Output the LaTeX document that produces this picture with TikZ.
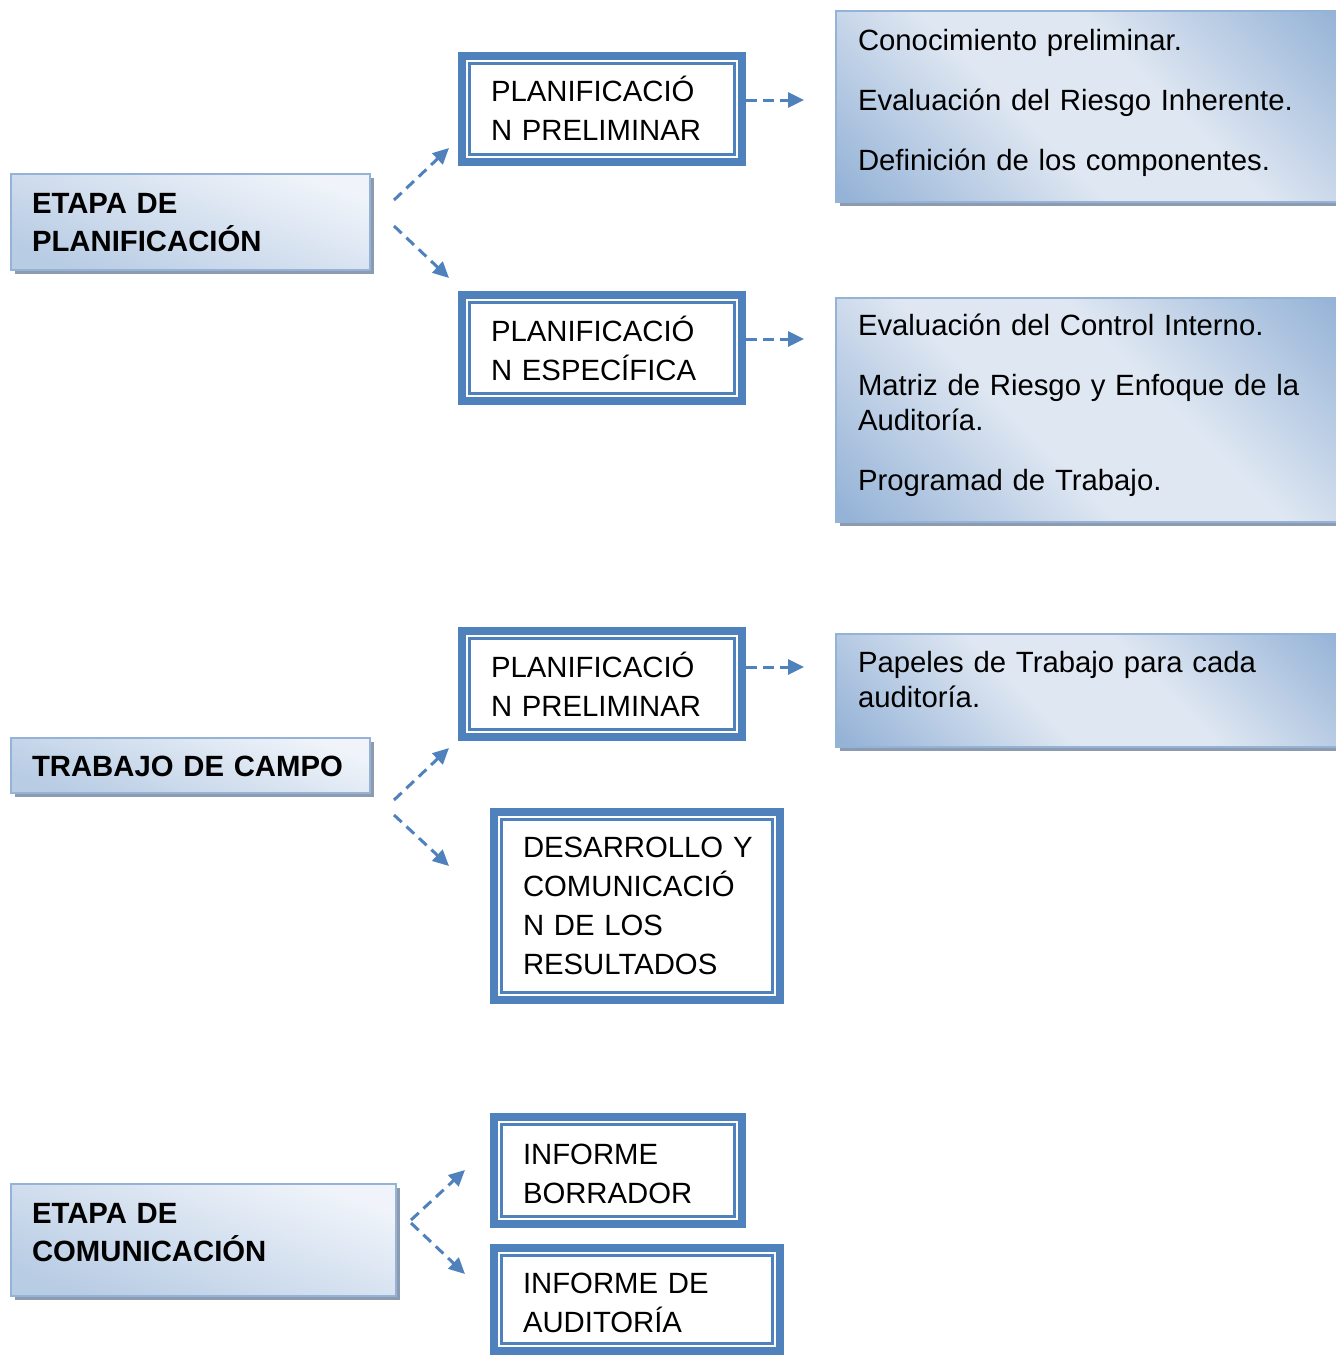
\documentclass[tikz,border=0pt]{standalone}
\usepackage{fontspec}
\setmainfont{Liberation Sans}
\usetikzlibrary{arrows.meta,shadows}

\definecolor{frameblue}{HTML}{4F81BD}
\definecolor{paleedge}{HTML}{95B3D7}
\definecolor{stagetop}{HTML}{F0F4FA}
\definecolor{stagebot}{HTML}{B8CCE4}
\definecolor{noteblue}{HTML}{95B3D7}
\definecolor{notelight}{HTML}{DFE7F2}
\definecolor{shadowgray}{HTML}{8C9BB0}

% diagonal fill of the detail boxes: blue corners, pale band through the middle
\pgfdeclarehorizontalshading{notefill}{100bp}{%
  color(0bp)=(noteblue); color(16bp)=(noteblue); color(42bp)=(notelight);
  color(58bp)=(notelight); color(84bp)=(noteblue); color(100bp)=(noteblue)}

\tikzset{
  every node/.style={inner sep=0pt, outer sep=0pt},
  boxshadow/.style={general shadow={fill=shadowgray, draw=none,
      shadow xshift=4pt, shadow yshift=-4pt}},
  stagebox/.style={anchor=north west, draw=paleedge, line width=2pt,
      top color=stagetop, bottom color=stagebot, shading angle=-20, boxshadow},
  framebox/.style={anchor=north west, draw=frameblue, line width=8pt, fill=white,
      path picture={\draw[frameblue, line width=2.8pt]
        ([shift={(7.2,7.2)}]path picture bounding box.north west) rectangle
        ([shift={(-7.2,-7.2)}]path picture bounding box.south east);}},
  notebox/.style={anchor=north west, draw=paleedge, line width=1.6pt,
      shade, shading=notefill, shading angle=45, boxshadow},
  stagetext/.style={anchor=base west, align=left, text width=360pt,
      font=\fontsize{29.3}{38.8}\selectfont\bfseries},
  frametext/.style={anchor=base west, align=left, text width=245pt,
      font=\fontsize{29.3}{39.3}\selectfont},
  notetext/.style={anchor=base west, align=left, text width=470pt,
      font=\fontsize{29.3}{35}\selectfont},
  flow/.style={frameblue, line width=3pt, dash pattern=on 10.5pt off 6.5pt,
      -{Triangle[length=16pt,width=15pt]}},
}

\begin{document}
\begin{tikzpicture}[x=1pt, y=-1pt]
\useasboundingbox (0,0) rectangle (1336,1355);

% ---- stages (left column)
\node[stagebox, minimum width=359pt, minimum height=96pt] (st1) at (11,174) {};
\node[stagetext] (st1t) at (32,213) {ETAPA DE\\PLANIFICACIÓN};

\node[stagebox, minimum width=359pt, minimum height=55pt] (st2) at (11,738) {};
\node[stagetext] (st2t) at (32,776) {TRABAJO DE CAMPO};

\node[stagebox, minimum width=385pt, minimum height=112pt] (st3) at (11,1184) {};
\node[stagetext] (st3t) at (32,1223) {ETAPA DE\\COMUNICACIÓN};

% ---- phases (double framed boxes)
\node[framebox, minimum width=280pt, minimum height=106pt] (ph1) at (462,56) {};
\node[frametext] (ph1t) at (491,101.5) {PLANIFICACIÓ\\N PRELIMINAR};

\node[framebox, minimum width=280pt, minimum height=106pt] (ph2) at (462,295) {};
\node[frametext] (ph2t) at (491,341) {PLANIFICACIÓ\\N ESPECÍFICA};

\node[framebox, minimum width=280pt, minimum height=106pt] (ph3) at (462,631) {};
\node[frametext] (ph3t) at (491,677) {PLANIFICACIÓ\\N PRELIMINAR};

\node[framebox, minimum width=286pt, minimum height=188pt] (ph4) at (494,812) {};
\node[frametext] (ph4t) at (523,857) {DESARROLLO~Y\\COMUNICACIÓ\\N DE LOS\\RESULTADOS};

\node[framebox, minimum width=248pt, minimum height=107pt] (ph5) at (494,1117) {};
\node[frametext] (ph5t) at (523,1164) {INFORME\\BORRADOR};

\node[framebox, minimum width=286pt, minimum height=103pt] (ph6) at (494,1248) {};
\node[frametext] (ph6t) at (523,1293) {INFORME DE\\AUDITORÍA};

% ---- details (right column, running off the page edge)
\node[notebox, minimum width=514pt, minimum height=191pt] (nt1) at (836,11) {};
\node[notetext] (nt1t) at (858,50)
  {Conocimiento preliminar.\\[25pt]Evaluación del Riesgo Inherente.\\[25pt]Definición de los componentes.};

\node[notebox, minimum width=514pt, minimum height=224pt] (nt2) at (836,298) {};
\node[notetext] (nt2t) at (858,335)
  {Evaluación del Control Interno.\\[25pt]Matriz de Riesgo y Enfoque de la\\Auditoría.\\[25pt]Programad de Trabajo.};

\node[notebox, minimum width=514pt, minimum height=113pt] (nt3) at (836,634) {};
\node[notetext] (nt3t) at (858,672) {Papeles de Trabajo para cada\\auditoría.};

% ---- connector end points
\coordinate (s1a) at (394,200);  \coordinate (e1a) at (449,148);
\coordinate (s1b) at (394,226);  \coordinate (e1b) at (449,278);
\coordinate (s2a) at (394,800);  \coordinate (e2a) at (449,748);
\coordinate (s2b) at (394,815);  \coordinate (e2b) at (449,866);
\coordinate (s3a) at (411,1220); \coordinate (e3a) at (465,1170);
\coordinate (s3b) at (411,1223); \coordinate (e3b) at (465,1274);
\coordinate (d1) at (804,100);
\coordinate (d2) at (804,339);
\coordinate (d3) at (804,667);

% ---- dashed connectors
\draw[flow] (s1a) -- (e1a);
\draw[flow] (s1b) -- (e1b);
\draw[flow] (s2a) -- (e2a);
\draw[flow] (s2b) -- (e2b);
\draw[flow] (s3a) -- (e3a);
\draw[flow] (s3b) -- (e3b);
\draw[flow] (ph1.east |- d1) ++(4,0) -- (d1);
\draw[flow] (ph2.east |- d2) ++(4,0) -- (d2);
\draw[flow] (ph3.east |- d3) ++(4,0) -- (d3);
\end{tikzpicture}
\end{document}
